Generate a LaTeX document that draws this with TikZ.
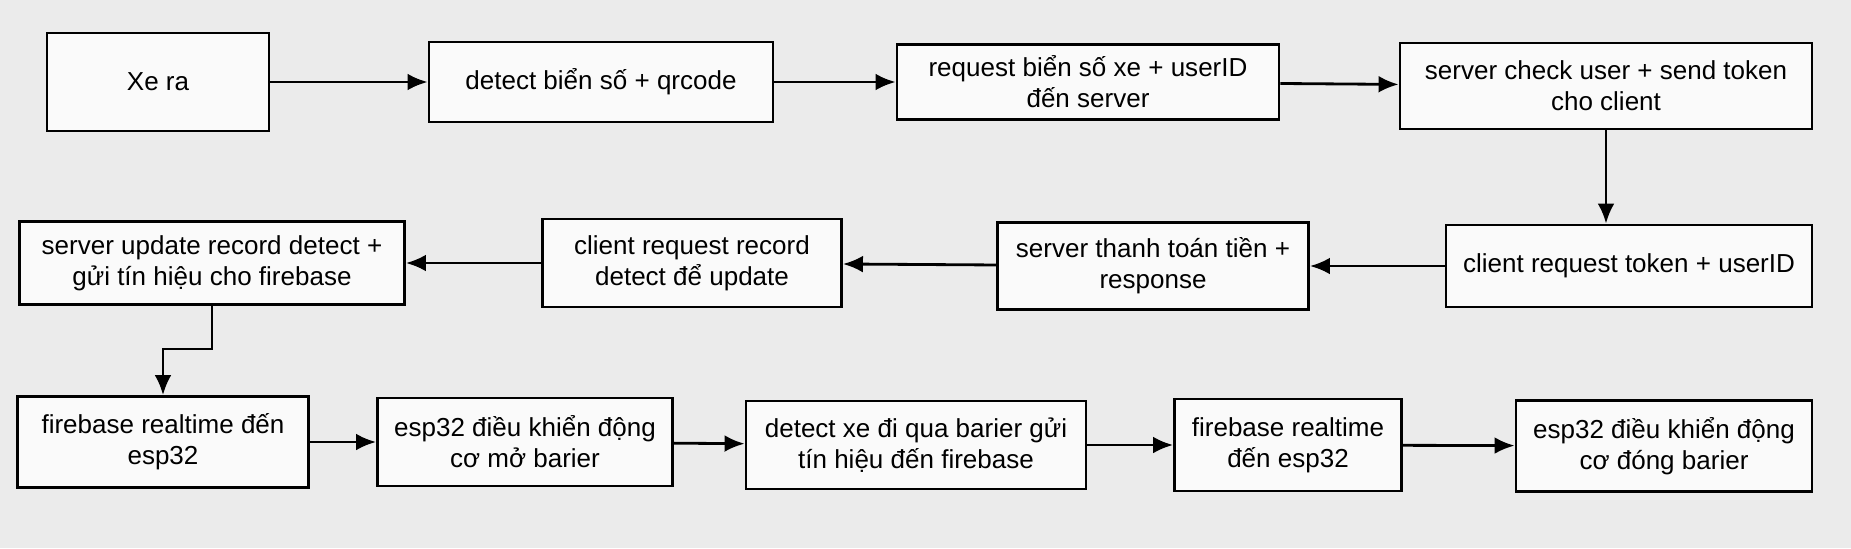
\documentclass[tikz,border=0pt]{standalone}
\usepackage{fontspec}
\setmainfont{Liberation Sans}
\usetikzlibrary{positioning, arrows.meta}

\begin{document}
\begin{tikzpicture}[
    x=0.025cm, y=-0.025cm,
    box/.style={draw, line width=2pt, fill=black!2, align=center, inner sep=2pt, font=\fontsize{18.5}{22}\selectfont},
    arr/.style={-{Latex[length=5mm, width=4.2mm]}, line width=2pt}
]
\fill[black!8] (0,0) rectangle (1851,548);
\useasboundingbox (0,0) rectangle (1851,548);

% row 1
\node[box, minimum width=5.55cm, minimum height=2.45cm] (xe) at (158,82) {Xe ra};
\node[box, minimum width=8.6cm, minimum height=2.0cm] (det) at (601,82) {detect biển số + qrcode};
\node[box, minimum width=9.55cm, minimum height=1.875cm] (req) at (1088,82) {request biển số xe + userID\\đến server};
\node[box, minimum width=10.3cm, minimum height=2.15cm] (chk) at (1606,86) {server check user + send token\\cho client};

% row 2
\node[box, minimum width=9.625cm, minimum height=2.075cm] (upd) at (212,263) {server update record detect +\\gửi tín hiệu cho firebase};
\node[box, minimum width=7.475cm, minimum height=2.2cm] (crr) at (692,263) {client request record\\detect để update};
\node[box, minimum width=7.775cm, minimum height=2.175cm] (pay) at (1153,266) {server thanh toán tiền +\\response};
\node[box, minimum width=9.15cm, minimum height=2.05cm] (ctk) at (1629,266) {client request token + userID};

% row 3
\node[box, minimum width=7.275cm, minimum height=2.275cm] (fb1) at (163,442) {firebase realtime đến\\esp32};
\node[box, minimum width=7.375cm, minimum height=2.2cm] (mo) at (525,442) {esp32 điều khiển động\\cơ mở barier};
\node[box, minimum width=8.5cm, minimum height=2.2cm] (qua) at (916,445) {detect xe đi qua barier gửi\\tín hiệu đến firebase};
\node[box, minimum width=5.675cm, minimum height=2.3cm] (fb2) at (1288,445) {firebase realtime\\đến esp32};
\node[box, minimum width=7.4cm, minimum height=2.275cm] (dong) at (1664,446) {esp32 điều khiển động\\cơ đóng barier};

\draw[arr] (xe) -- (det);
\draw[arr] (det) -- (req);
\draw[arr] (req) -- (chk);
\draw[arr] (chk.south) -- (chk.south |- ctk.north);
\draw[arr] (ctk) -- (pay);
\draw[arr] (pay) -- (crr);
\draw[arr] (crr) -- (upd);
\draw[arr] (upd.south) -- ++(0,43) -| (fb1.north);
\draw[arr] (fb1) -- (mo);
\draw[arr] (mo) -- (qua);
\draw[arr] (qua) -- (fb2);
\draw[arr] (fb2) -- (dong);
\end{tikzpicture}
\end{document}
